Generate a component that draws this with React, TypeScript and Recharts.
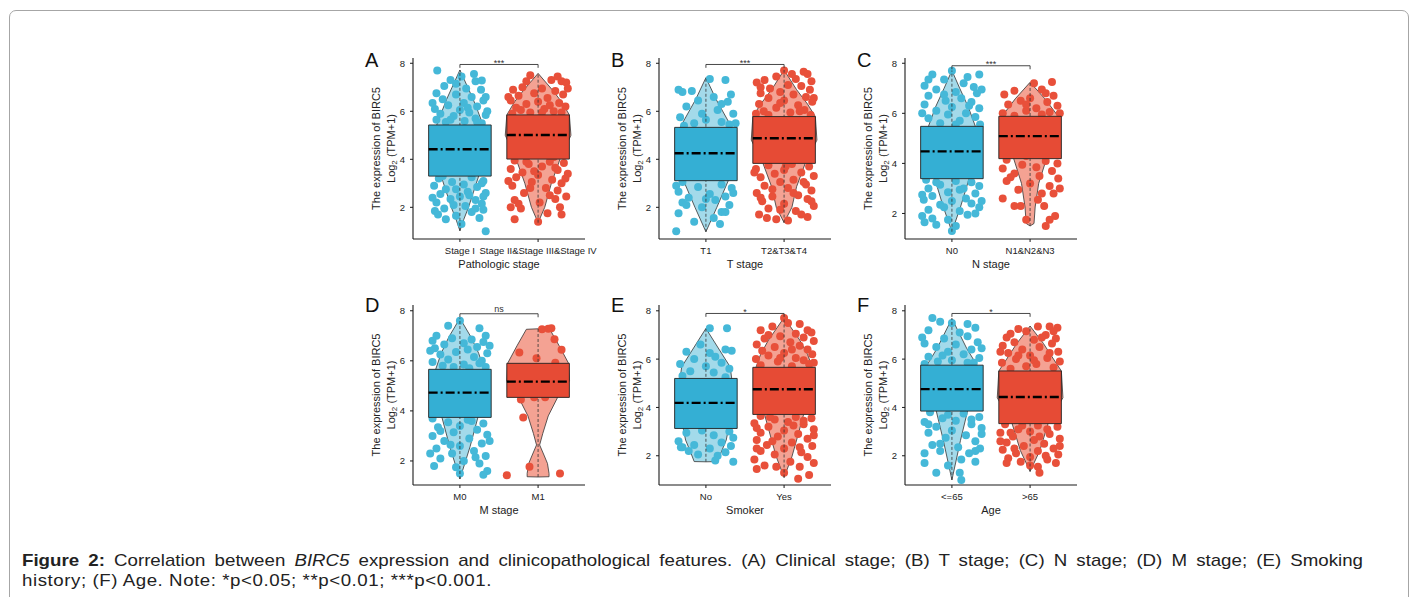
import React from "react";
import {
  ComposedChart,
  Area,
  Scatter,
  XAxis,
  YAxis,
  ReferenceArea,
  ReferenceLine,
  ReferenceDot,
} from "recharts";

// ---- categories / labels ----
const pathologicCats = ["Stage I", "Stage II&Stage III&Stage IV"];
const tCats = ["T1", "T2&T3&T4"];
const nCats = ["N0", "N1&N2&N3"];
const mCats = ["M0", "M1"];
const smokerCats = ["No", "Yes"];
const ageCats = ["<=65", ">65"];

const axisTitles = ["Pathologic stage", "T stage", "N stage", "M stage", "Smoker", "Age"];
const sigLabels = ["***", "***", "***", "ns", "*", "*"];
const bracketYs = [7.95, 7.95, 7.9, 7.88, 7.89, 7.89];
const yTicks = [2, 4, 6, 8];
const xTicks = [1, 2];

// ---- box stats: [q1, median, q3] ----
const stageIBox = [3.3, 4.42, 5.43];
const stageIIBox = [4.01, 5.01, 5.85];
const t1Box = [3.11, 4.25, 5.33];
const t234Box = [3.83, 4.88, 5.78];
const n0Box = [3.39, 4.48, 5.48];
const n123Box = [4.19, 5.09, 5.88];
const m0Box = [3.74, 4.73, 5.66];
const m1Box = [4.54, 5.17, 5.9];
const noBox = [3.13, 4.19, 5.2];
const yesBox = [3.71, 4.75, 5.66];
const youngBox = [3.85, 4.76, 5.75];
const oldBox = [3.33, 4.43, 5.51];

// ---- violin outlines: [y, half width] ----
const stageIViolin = [[7.72, 0], [7.0, 0.1], [6.5, 0.17], [6.0, 0.23], [5.4, 0.3], [4.4, 0.33], [3.3, 0.24], [2.6, 0.17], [2.0, 0.11], [1.5, 0.05], [1.02, 0]];
const stageIIViolin = [[7.58, 0], [6.9, 0.18], [6.4, 0.3], [5.85, 0.4], [5.0, 0.42], [4.0, 0.28], [3.0, 0.17], [2.0, 0.085], [1.36, 0]];
const t1Violin = [[7.4, 0], [6.5, 0.13], [5.33, 0.33], [4.2, 0.35], [3.14, 0.29], [2.0, 0.14], [0.98, 0]];
const t234Violin = [[7.72, 0], [6.9, 0.16], [6.3, 0.3], [5.78, 0.4], [4.8, 0.42], [3.83, 0.27], [2.86, 0.16], [2.0, 0.1], [1.36, 0]];
const n0Violin = [[7.71, 0], [7.0, 0.1], [6.25, 0.21], [5.48, 0.3], [4.4, 0.32], [3.39, 0.22], [2.26, 0.11], [1.27, 0]];
const n123Violin = [[7.24, 0], [6.58, 0.19], [5.88, 0.36], [5.0, 0.38], [4.19, 0.21], [3.2, 0.11], [2.26, 0.065], [1.6, 0.05], [1.5, 0]];
const m0Violin = [[7.7, 0], [6.96, 0.14], [6.3, 0.24], [5.66, 0.31], [4.7, 0.33], [3.74, 0.23], [2.57, 0.13], [1.28, 0]];
const m1Violin = [[7.28, 0], [7.26, 0.15], [6.6, 0.27], [5.9, 0.39], [5.2, 0.4], [4.54, 0.25], [3.8, 0.13], [3.1, 0.06], [2.64, 0.02], [2.2, 0.08], [1.9, 0.12], [1.5, 0.14], [1.37, 0.14], [1.36, 0]];
const noViolin = [[7.27, 0], [6.5, 0.15], [5.68, 0.31], [5.2, 0.33], [4.2, 0.34], [3.13, 0.29], [2.65, 0.26], [2.1, 0.19], [1.76, 0.15], [1.75, 0]];
const yesViolin = [[7.72, 0], [6.79, 0.2], [6.2, 0.3], [5.66, 0.36], [4.7, 0.38], [3.71, 0.25], [2.65, 0.16], [1.96, 0.1], [1.1, 0]];
const youngViolin = [[7.68, 0], [6.44, 0.19], [5.75, 0.32], [4.8, 0.33], [3.85, 0.2], [2.64, 0.11], [1.0, 0]];
const oldViolin = [[7.37, 0], [6.65, 0.17], [6.0, 0.3], [5.51, 0.4], [4.4, 0.42], [3.33, 0.23], [2.22, 0.125], [1.35, 0]];

// ---- jittered samples: [x offset from category, y] ----
const stageIPoints = [
  [-0.29, 7.7], [0.02, 7.45], [-0.12, 7.3], [0.2, 7.25], [0.28, 7.28], [-0.2, 7.05], [0.08, 6.95], [0.27, 6.9], [-0.3, 6.75],
  [-0.05, 6.7], [0.15, 6.6], [-0.22, 6.5], [0.3, 6.45], [0.05, 6.35], [-0.15, 6.25], [0.22, 6.2], [-0.32, 6.1], [0.0, 6.05],
  [0.12, 5.95], [-0.25, 5.9], [0.33, 5.85], [-0.08, 5.8], [0.2, 5.7], [-0.3, 5.65], [0.06, 5.6], [-0.18, 5.55], [0.28, 5.5],
  [0.18, 7.55], [-0.05, 7.15], [0.33, 6.6], [-0.35, 6.35], [0.1, 6.15], [-0.12, 5.65], [0.35, 6.0], [0.22, 5.55],
  [-0.2, 5.2], [0.1, 4.8], [-0.05, 4.4], [0.25, 4.0], [-0.3, 3.6],
  [0.15, 3.25], [-0.27, 3.2], [0.3, 3.1], [-0.1, 3.05], [0.05, 2.95], [-0.33, 2.9], [0.22, 2.85], [-0.18, 2.75], [0.1, 2.65],
  [0.33, 2.6], [-0.25, 2.55], [0.0, 2.45], [-0.12, 2.35], [0.2, 2.3], [-0.3, 2.2], [0.28, 2.15], [0.07, 2.05], [-0.2, 1.95],
  [-0.32, 1.85], [0.15, 1.8], [-0.05, 1.65], [0.25, 1.55], [-0.18, 1.5], [0.02, 1.3], [0.33, 1.0],
  [-0.22, 3.3], [0.28, 3.0], [-0.05, 2.75], [0.12, 2.5], [-0.35, 2.4], [0.3, 2.45], [-0.08, 2.1], [0.2, 1.95], [-0.28, 1.7], [0.3, 1.9],
];
const stageIIPoints = [
  [-0.1, 7.5], [0.17, 7.3], [0.3, 7.25], [0.36, 7.2], [-0.2, 7.0], [0.05, 6.95], [-0.32, 6.9], [0.22, 6.85], [-0.05, 6.75],
  [0.32, 6.7], [-0.25, 6.65], [0.12, 6.55], [-0.35, 6.45], [0.0, 6.4], [0.27, 6.35], [-0.15, 6.3], [0.35, 6.2], [-0.28, 6.15],
  [0.08, 6.1], [0.2, 6.0], [-0.1, 5.95], [-0.33, 5.9],
  [0.25, 7.45], [-0.15, 7.25], [0.38, 6.95], [-0.38, 6.6], [0.15, 6.25], [-0.22, 6.05], [0.3, 5.95], [0.05, 5.95],
  [0.1, 5.6], [-0.2, 5.2], [0.3, 4.8], [-0.05, 4.4], [0.2, 4.1],
  [-0.3, 3.95], [0.15, 3.9], [0.33, 3.85], [-0.12, 3.8], [0.05, 3.7], [-0.35, 3.6], [0.25, 3.55], [-0.2, 3.45], [0.38, 3.4],
  [0.0, 3.35], [-0.28, 3.25], [0.18, 3.15], [-0.08, 3.05], [0.3, 3.0], [-0.33, 2.9], [0.1, 2.8], [0.25, 2.7], [-0.18, 2.6],
  [0.36, 2.45], [-0.3, 2.3], [0.02, 2.2], [0.28, 2.0], [-0.22, 1.95], [0.12, 1.75], [-0.3, 1.5], [0.3, 1.7], [0.0, 1.4],
  [-0.15, 3.9], [0.22, 3.65], [-0.05, 3.5], [0.35, 3.2], [-0.38, 3.1], [-0.1, 2.8], [0.15, 2.5], [-0.25, 2.15], [0.22, 2.35], [-0.35, 2.0],
];
const t1Points = [
  [0.05, 7.35], [0.25, 7.3], [-0.18, 6.85], [-0.3, 6.8], [0.32, 6.7], [0.1, 6.6], [-0.1, 6.45], [0.28, 6.4], [-0.25, 6.2],
  [0.15, 6.05], [0.35, 5.9], [-0.33, 5.75], [0.0, 5.65], [0.2, 5.55], [-0.15, 5.5], [0.3, 5.45], [-0.28, 5.4],
  [-0.35, 6.9], [0.2, 6.3], [-0.05, 5.9], [0.38, 5.5],
  [0.1, 5.0], [-0.2, 4.5], [0.25, 4.0], [-0.05, 3.5],
  [-0.3, 3.05], [0.2, 2.95], [-0.1, 2.85], [0.33, 2.8], [-0.35, 2.65], [0.05, 2.55], [0.25, 2.45], [-0.22, 2.4], [0.12, 2.3],
  [-0.3, 2.2], [0.3, 2.1], [-0.05, 2.0], [0.2, 1.8], [-0.35, 1.75], [0.1, 1.55], [-0.15, 1.4], [0.18, 1.3], [-0.38, 1.0],
  [-0.38, 2.9], [0.35, 2.6], [0.0, 2.35], [-0.25, 2.1], [0.25, 1.8],
];
const t234Points = [
  [0.0, 7.7], [0.25, 7.65], [0.3, 7.55], [-0.1, 7.45], [0.15, 7.35], [-0.25, 7.3], [0.35, 7.25], [-0.35, 7.2], [0.05, 7.1],
  [0.22, 7.05], [-0.18, 6.95], [0.33, 6.9], [-0.05, 6.8], [-0.3, 6.75], [0.12, 6.7], [0.28, 6.6], [-0.2, 6.55], [0.0, 6.45],
  [0.36, 6.4], [-0.32, 6.3], [0.18, 6.25], [-0.1, 6.15], [0.26, 6.05], [-0.26, 6.0], [0.08, 5.95], [-0.36, 5.9], [0.34, 5.85],
  [0.1, 7.55], [-0.3, 7.0], [0.38, 6.55], [-0.05, 6.35], [0.2, 6.0], [-0.2, 5.85],
  [0.2, 5.5], [-0.15, 5.0], [0.3, 4.5], [-0.3, 4.1],
  [0.1, 3.8], [-0.2, 3.75], [0.32, 3.7], [-0.36, 3.6], [0.0, 3.55], [0.22, 3.45], [-0.12, 3.4], [0.38, 3.3], [-0.3, 3.25],
  [0.12, 3.15], [-0.05, 3.05], [0.28, 2.95], [-0.25, 2.9], [0.05, 2.8], [0.35, 2.7], [-0.35, 2.6], [0.18, 2.5], [-0.15, 2.45],
  [0.3, 2.35], [-0.28, 2.25], [0.0, 2.15], [0.38, 2.05], [-0.2, 1.95], [0.15, 1.85], [-0.32, 1.7], [0.3, 1.6], [0.05, 1.45], [-0.1, 1.5],
  [0.02, 3.7], [-0.38, 3.45], [0.25, 3.05], [-0.15, 2.75], [0.12, 2.6], [-0.3, 2.4], [0.35, 2.25], [-0.05, 1.9], [0.22, 1.7], [-0.22, 1.55],
];
const n0Points = [
  [0.0, 7.7], [-0.25, 7.55], [0.35, 7.55], [-0.1, 7.35], [0.15, 7.2], [-0.35, 7.1], [0.28, 7.05], [-0.2, 6.95], [0.05, 6.85],
  [0.32, 6.8], [-0.3, 6.7], [0.12, 6.6], [-0.08, 6.5], [0.25, 6.45], [-0.35, 6.35], [0.0, 6.25], [0.35, 6.2], [-0.2, 6.1],
  [0.18, 6.0], [-0.05, 5.95], [0.3, 5.85], [-0.3, 5.8], [0.1, 5.7], [-0.15, 5.6], [0.36, 5.55],
  [0.2, 7.45], [-0.3, 7.35], [0.38, 6.95], [-0.1, 6.75], [0.22, 6.3], [-0.38, 6.0], [0.05, 5.55],
  [-0.25, 5.2], [0.15, 4.8], [-0.1, 4.3], [0.3, 3.8],
  [-0.33, 3.35], [0.05, 3.3], [0.25, 3.25], [-0.15, 3.15], [0.35, 3.1], [-0.3, 3.0], [0.1, 2.95], [-0.05, 2.85], [0.3, 2.8],
  [-0.25, 2.7], [0.18, 2.6], [-0.36, 2.55], [0.0, 2.5], [0.25, 2.4], [-0.15, 2.35], [0.35, 2.25], [-0.3, 2.15], [0.1, 2.1],
  [-0.38, 1.9], [-0.25, 1.8], [0.2, 1.95], [-0.05, 1.75], [-0.35, 1.65], [0.05, 1.5], [0.0, 1.3],
  [-0.2, 3.25], [0.15, 3.0], [-0.38, 2.75], [0.38, 2.5], [-0.1, 2.25], [0.3, 2.0], [-0.2, 1.55],
];
const n123Points = [
  [0.28, 7.25], [0.05, 7.2], [-0.2, 6.9], [0.15, 6.95], [-0.33, 6.75], [0.3, 6.7], [0.0, 6.6], [-0.12, 6.5], [0.22, 6.45],
  [-0.28, 6.35], [0.35, 6.3], [0.08, 6.2], [-0.05, 6.1], [0.25, 6.05], [-0.35, 6.0], [0.15, 5.95], [-0.2, 5.9],
  [0.2, 6.8], [-0.05, 6.35], [0.38, 6.0],
  [0.1, 5.5], [-0.25, 5.0], [0.3, 4.6], [-0.05, 4.3],
  [-0.3, 4.15], [0.2, 4.1], [0.35, 4.0], [-0.1, 3.95], [0.08, 3.85], [-0.35, 3.8], [0.28, 3.7], [-0.2, 3.6], [0.12, 3.5],
  [0.36, 3.4], [-0.3, 3.3], [0.0, 3.2], [0.25, 3.1], [-0.15, 2.95], [0.3, 2.8], [-0.35, 2.6], [0.1, 2.55], [-0.12, 2.3],
  [-0.2, 2.3], [0.18, 2.3], [0.32, 1.9], [-0.05, 1.75], [0.25, 1.75], [0.2, 1.5],
  [-0.25, 3.45], [0.38, 3.0], [0.15, 2.8],
];
const m0Points = [
  [0.0, 7.6], [0.25, 7.3], [-0.3, 7.0], [0.33, 7.0], [-0.1, 6.9], [0.15, 6.85], [-0.35, 6.8], [0.3, 6.75], [0.05, 6.7],
  [-0.2, 6.65], [0.22, 6.55], [-0.32, 6.5], [0.1, 6.45], [-0.05, 6.35], [0.35, 6.3], [-0.25, 6.25], [0.18, 6.15], [-0.15, 6.05],
  [0.28, 6.0], [-0.35, 5.95], [0.05, 5.85], [-0.22, 5.8], [0.33, 5.75], [0.12, 5.7],
  [-0.15, 7.4], [0.38, 6.6], [-0.38, 6.4], [0.25, 5.9], [-0.08, 5.75],
  [-0.3, 5.3], [0.2, 4.9], [-0.1, 4.4], [0.3, 4.0],
  [-0.35, 3.7], [0.1, 3.65], [-0.15, 3.55], [0.3, 3.5], [0.0, 3.4], [-0.28, 3.35], [0.22, 3.25], [-0.08, 3.15], [0.35, 3.05],
  [-0.35, 3.0], [0.12, 2.9], [-0.2, 2.8], [0.28, 2.7], [0.0, 2.6], [-0.3, 2.5], [0.18, 2.4], [-0.1, 2.3], [0.33, 2.2],
  [-0.25, 2.1], [0.05, 2.0], [0.25, 1.9], [-0.33, 1.8], [-0.05, 1.75], [0.35, 1.6], [0.3, 1.45],
  [0.15, 3.6], [-0.25, 3.2], [0.38, 2.8], [-0.12, 2.65], [0.2, 2.15], [-0.38, 2.3], [0.0, 1.5],
];
const m1Points = [
  [0.05, 7.26], [0.13, 7.28], [0.17, 7.3], [0.21, 6.86], [0.3, 6.44], [-0.24, 6.33], [-0.02, 6.1], [0.22, 5.92], [-0.15, 5.7],
  [0.1, 5.4], [-0.3, 5.2], [0.25, 5.0], [0.0, 4.8], [-0.22, 4.46], [-0.05, 4.55], [0.09, 4.55], [-0.19, 3.74], [-0.11, 1.77],
  [-0.4, 1.43], [0.28, 1.5],
];
const noPoints = [
  [0.05, 7.28], [0.27, 7.28], [-0.07, 6.6], [0.25, 6.4], [0.33, 6.35], [-0.25, 6.3], [0.05, 6.25], [0.12, 6.1], [-0.15, 6.0],
  [0.2, 5.85], [-0.33, 5.8], [0.0, 5.7], [0.3, 5.6], [-0.2, 5.5], [0.1, 5.45], [-0.3, 5.3], [0.25, 5.25],
  [-0.1, 4.9], [0.2, 4.4], [-0.25, 3.9], [0.05, 3.4],
  [-0.05, 3.05], [0.3, 3.0], [-0.25, 2.95], [0.1, 2.85], [0.35, 2.75], [-0.35, 2.6], [0.2, 2.55], [-0.15, 2.45], [0.32, 2.4],
  [-0.3, 2.35], [0.05, 2.3], [-0.22, 2.2], [0.25, 2.15], [-0.1, 2.05], [0.15, 2.0], [-0.32, 2.35], [0.12, 1.8], [0.35, 1.75],
];
const yesPoints = [
  [0.0, 7.7], [0.05, 7.5], [-0.15, 7.35], [0.3, 7.2], [0.35, 7.1], [-0.3, 7.2], [0.15, 7.05], [-0.05, 6.95], [0.25, 6.9],
  [-0.25, 6.85], [0.38, 6.75], [0.08, 6.7], [-0.35, 6.6], [0.2, 6.55], [-0.12, 6.5], [0.3, 6.4], [-0.28, 6.35], [0.0, 6.25],
  [0.36, 6.2], [-0.2, 6.15], [0.15, 6.05], [-0.36, 6.0], [0.25, 5.95], [-0.08, 5.9], [0.32, 5.8], [-0.3, 5.75], [0.1, 5.7],
  [0.2, 7.45], [-0.2, 7.0], [0.1, 6.4], [-0.05, 6.05], [0.38, 5.85],
  [-0.2, 5.3], [0.25, 4.9], [-0.05, 4.4], [0.3, 4.0],
  [-0.3, 3.65], [0.15, 3.6], [0.35, 3.55], [-0.12, 3.5], [0.05, 3.4], [-0.38, 3.35], [0.25, 3.3], [-0.2, 3.2], [0.38, 3.1],
  [0.0, 3.05], [-0.3, 2.95], [0.18, 2.9], [-0.08, 2.8], [0.3, 2.7], [-0.35, 2.65], [0.1, 2.55], [-0.22, 2.45], [0.36, 2.4],
  [0.0, 2.3], [-0.3, 2.2], [0.22, 2.15], [-0.12, 2.05], [0.3, 1.95], [-0.38, 1.85], [0.08, 1.75], [-0.25, 1.6], [0.2, 1.55],
  [-0.35, 1.45], [0.0, 1.3], [0.32, 1.2], [0.18, 1.05],
  [-0.18, 3.6], [0.25, 3.45], [-0.35, 3.15], [0.12, 3.25], [0.38, 2.85], [-0.15, 2.6], [0.2, 2.35], [-0.35, 2.3], [0.38, 1.7], [-0.1, 1.55],
];
const youngPoints = [
  [-0.25, 7.7], [-0.15, 7.55], [0.0, 7.5], [0.3, 7.3], [-0.3, 7.2], [0.1, 7.1], [0.2, 6.95], [-0.1, 6.85], [0.33, 6.7],
  [-0.35, 6.65], [0.05, 6.6], [-0.2, 6.5], [0.25, 6.4], [-0.05, 6.3], [0.15, 6.2], [-0.3, 6.1], [0.35, 6.05], [0.0, 5.95],
  [-0.18, 5.9], [0.28, 5.85], [-0.35, 5.8],
  [0.2, 7.45], [-0.38, 6.9], [0.38, 6.45], [-0.12, 6.15], [0.2, 5.85],
  [0.1, 5.4], [-0.2, 5.0], [0.3, 4.5], [-0.05, 4.0],
  [-0.28, 3.8], [0.15, 3.75], [0.35, 3.6], [-0.12, 3.55], [0.05, 3.45], [-0.35, 3.4], [0.25, 3.3], [-0.2, 3.2], [0.38, 3.15],
  [0.0, 3.05], [-0.3, 2.95], [0.18, 2.85], [-0.08, 2.75], [0.3, 2.6], [-0.25, 2.45], [0.08, 2.35], [0.36, 2.3], [-0.15, 2.2],
  [0.22, 2.1], [-0.35, 1.7], [0.12, 1.85], [0.3, 1.75], [-0.05, 1.6], [-0.2, 1.3], [0.1, 1.3], [0.12, 1.0],
  [-0.05, 3.7], [0.25, 3.5], [-0.3, 3.3], [0.38, 2.9], [-0.15, 2.5], [0.3, 2.2], [-0.35, 2.1],
];
const oldPoints = [
  [0.1, 7.35], [0.25, 7.35], [0.35, 7.3], [-0.15, 7.25], [-0.05, 7.15], [0.2, 7.0], [-0.3, 6.9], [0.33, 6.85], [0.05, 6.8],
  [-0.2, 6.7], [0.28, 6.65], [-0.35, 6.55], [0.12, 6.5], [-0.1, 6.4], [0.36, 6.3], [-0.28, 6.25], [0.0, 6.15], [0.22, 6.05],
  [-0.18, 6.0], [0.38, 5.9], [-0.36, 5.85], [0.08, 5.8], [-0.05, 5.7], [0.3, 5.65], [-0.25, 5.6],
  [0.3, 7.15], [-0.25, 7.05], [0.15, 6.9], [-0.38, 6.3], [0.25, 6.25], [-0.15, 6.15], [0.05, 5.95],
  [0.15, 5.2], [-0.2, 4.8], [0.3, 4.2], [-0.05, 3.7],
  [-0.32, 3.3], [0.1, 3.25], [0.35, 3.2], [-0.15, 3.1], [0.0, 3.0], [-0.38, 2.95], [0.25, 2.9], [-0.22, 2.8], [0.38, 2.7],
  [0.05, 2.65], [-0.3, 2.55], [0.18, 2.5], [-0.08, 2.4], [0.3, 2.3], [-0.35, 2.25], [0.1, 2.2], [-0.18, 2.1], [0.36, 2.05],
  [0.0, 1.95], [-0.28, 1.9], [0.22, 1.85], [-0.12, 1.75], [0.33, 1.7], [0.1, 1.55], [0.12, 1.3],
  [-0.1, 3.25], [0.22, 3.1], [-0.25, 2.95], [0.12, 2.8], [-0.38, 2.6], [0.38, 2.4], [-0.2, 2.3], [0.2, 2.0], [-0.3, 1.7], [0.0, 1.6],
];

// ---- styling ----
const INK = "#1a1a1a";
const FONT = '"Liberation Sans", Arial, Helvetica, sans-serif';
const PALETTE = [
  { point: "#45B8D8", box: "#34AFD4", violin: "#A3DAEA" },
  { point: "#E8503A", box: "#E64B35", violin: "#F4A293" },
];
const Y_W = 52;
const TOP_M = 18;
const RIGHT_M = 12;
const X_H = 40;
const PLOT_W = 172;

type Group = { violin: number[][]; box: number[]; points: number[][] };
type PanelCfg = {
  letter: string;
  cats: string[];
  domain: [number, number];
  groups: Group[];
  left: number;
  top: number;
  height: number;
  idx: number;
};

const panels: PanelCfg[] = [
  { letter: "A", cats: pathologicCats, domain: [0.68, 8.22], idx: 0, left: 413, top: 58, height: 181,
    groups: [{ violin: stageIViolin, box: stageIBox, points: stageIPoints }, { violin: stageIIViolin, box: stageIIBox, points: stageIIPoints }] },
  { letter: "B", cats: tCats, domain: [0.68, 8.22], idx: 1, left: 659, top: 58, height: 181,
    groups: [{ violin: t1Violin, box: t1Box, points: t1Points }, { violin: t234Violin, box: t234Box, points: t234Points }] },
  { letter: "C", cats: nCats, domain: [0.98, 8.21], idx: 2, left: 905, top: 58, height: 181,
    groups: [{ violin: n0Violin, box: n0Box, points: n0Points }, { violin: n123Violin, box: n123Box, points: n123Points }] },
  { letter: "D", cats: mCats, domain: [1.04, 8.23], idx: 3, left: 413, top: 305, height: 180,
    groups: [{ violin: m0Violin, box: m0Box, points: m0Points }, { violin: m1Violin, box: m1Box, points: m1Points }] },
  { letter: "E", cats: smokerCats, domain: [0.79, 8.24], idx: 4, left: 659, top: 305, height: 180,
    groups: [{ violin: noViolin, box: noBox, points: noPoints }, { violin: yesViolin, box: yesBox, points: yesPoints }] },
  { letter: "F", cats: ageCats, domain: [0.79, 8.24], idx: 5, left: 905, top: 305, height: 180,
    groups: [{ violin: youngViolin, box: youngBox, points: youngPoints }, { violin: oldViolin, box: oldBox, points: oldPoints }] },
];

const YTitle = (props: any) => {
  const vb = props.viewBox || { x: 0, y: TOP_M, width: Y_W, height: 180 };
  const cy = vb.y + vb.height / 2;
  const x1 = vb.x + 15;
  const x2 = vb.x + 30;
  return (
    <g fontFamily={FONT} fontSize={11} fill="#222">
      <text x={x1} y={cy} transform={`rotate(-90 ${x1} ${cy})`} textAnchor="middle" dominantBaseline="central">
        The expression of BIRC5
      </text>
      <text x={x2} y={cy} transform={`rotate(-90 ${x2} ${cy})`} textAnchor="middle" dominantBaseline="central">
        <tspan>Log</tspan>
        <tspan fontSize={8} dy={3}>2</tspan>
        <tspan dy={-3}> (TPM+1)</tspan>
      </text>
    </g>
  );
};

function Panel({ p }: { p: PanelCfg }) {
  const W = Y_W + PLOT_W + RIGHT_M;
  const H = TOP_M + p.height + X_H;
  const sig = sigLabels[p.idx];
  const by = bracketYs[p.idx];
  const isAsterisk = sig !== "ns";
  return (
    <div style={{ position: "absolute", left: p.left - Y_W, top: p.top - TOP_M }}>
      <ComposedChart
        layout="vertical"
        width={W}
        height={H}
        margin={{ top: TOP_M, right: RIGHT_M, bottom: 0, left: 0 }}
      >
        <XAxis
          type="number"
          dataKey="x"
          domain={[0.4, 2.6]}
          ticks={xTicks}
          interval={0}
          allowDataOverflow
          height={X_H}
          tickSize={3}
          tickMargin={4}
          axisLine={{ stroke: INK, strokeWidth: 1.1 }}
          tickLine={{ stroke: INK, strokeWidth: 1 }}
          tick={(tp: any) => (
            <text x={tp.x} y={tp.y} dy={8} textAnchor="middle" fontSize={9.5} fontFamily={FONT} fill="#222">
              {p.cats[tp.payload.value - 1]}
            </text>
          )}
          label={(lp: any) => {
            const vb = lp.viewBox;
            return (
              <text x={vb.x + vb.width / 2} y={vb.y + 29} textAnchor="middle" fontSize={11} fontFamily={FONT} fill="#222">
                {axisTitles[p.idx]}
              </text>
            );
          }}
        />
        <YAxis
          type="number"
          dataKey="y"
          domain={p.domain}
          reversed
          ticks={yTicks}
          interval={0}
          allowDataOverflow
          width={Y_W}
          tickSize={3}
          tickMargin={5}
          axisLine={{ stroke: INK, strokeWidth: 1.1 }}
          tickLine={{ stroke: INK, strokeWidth: 1 }}
          tick={(tp: any) => (
            <text x={tp.x} y={tp.y} dy={3.4} textAnchor="end" fontSize={9.5} fontFamily={FONT} fill="#222">
              {tp.payload.value}
            </text>
          )}
          label={(lp: any) => <YTitle viewBox={lp.viewBox} />}
        />

        {p.groups.map((g, i) => (
          <Area
            key={`v${i}`}
            data={g.violin.map(([y, w]) => ({ y, range: [i + 1 - w, i + 1 + w] }))}
            dataKey="range"
            type="linear"
            stroke="#333"
            strokeWidth={0.8}
            fill={PALETTE[i].violin}
            fillOpacity={1}
            dot={false}
            activeDot={false}
            isAnimationActive={false}
          />
        ))}

        {p.groups.map((g, i) => (
          <Scatter
            key={`s${i}`}
            data={g.points.map(([dx, y]) => ({ x: i + 1 + dx, y }))}
            isAnimationActive={false}
            shape={(sp: any) => <circle cx={sp.cx} cy={sp.cy} r={4} fill={PALETTE[i].point} />}
          />
        ))}

        {p.groups.map((g, i) => (
          <ReferenceLine
            key={`c${i}`}
            segment={[
              { x: i + 1, y: g.violin[g.violin.length - 1][0] },
              { x: i + 1, y: g.violin[0][0] },
            ]}
            stroke="#333"
            strokeWidth={0.8}
            strokeDasharray="3 2"
            zIndex={610}
          />
        ))}

        {p.groups.map((g, i) => (
          <ReferenceArea
            key={`b${i}`}
            x1={i + 1 - 0.4}
            x2={i + 1 + 0.4}
            y1={g.box[0]}
            y2={g.box[2]}
            fill={PALETTE[i].box}
            fillOpacity={1}
            stroke="#222"
            strokeWidth={0.9}
            ifOverflow="visible"
            zIndex={620}
          />
        ))}

        {p.groups.map((g, i) => (
          <ReferenceLine
            key={`m${i}`}
            segment={[
              { x: i + 1 - 0.4, y: g.box[1] },
              { x: i + 1 + 0.4, y: g.box[1] },
            ]}
            stroke="#000"
            strokeWidth={2.4}
            strokeDasharray="9 3 2 3"
            zIndex={630}
          />
        ))}

        <ReferenceLine segment={[{ x: 1, y: by }, { x: 2, y: by }]} stroke="#333" strokeWidth={0.9} zIndex={640} />
        <ReferenceLine segment={[{ x: 1, y: by }, { x: 1, y: by - 0.14 }]} stroke="#333" strokeWidth={0.9} zIndex={640} />
        <ReferenceLine segment={[{ x: 2, y: by }, { x: 2, y: by - 0.14 }]} stroke="#333" strokeWidth={0.9} zIndex={640} />
        <ReferenceDot
          x={1.5}
          y={by}
          r={0}
          fill="none"
          stroke="none"
          ifOverflow="visible"
          zIndex={650}
          label={(lp: any) => {
            const vb = lp.viewBox;
            const cx = vb.x + (vb.width || 0) / 2;
            const cy = vb.y + (vb.height || 0) / 2;
            return (
              <text x={cx} y={cy + (isAsterisk ? 1.5 : -2)} textAnchor="middle" fontSize={isAsterisk ? 9 : 9} fontFamily={FONT} fill="#333">
                {sig}
              </text>
            );
          }}
        />
      </ComposedChart>
      <div
        style={{
          position: "absolute",
          left: Y_W - 48,
          top: p.idx < 3 ? TOP_M - 8 : TOP_M - 10,
          fontFamily: FONT,
          fontSize: 20,
          lineHeight: "20px",
          color: "#111",
        }}
      >
        {p.letter}
      </div>
    </div>
  );
}

export default function App() {
  const capScale = 1.1;
  return (
    <div
      style={{
        position: "absolute",
        left: 0,
        top: 0,
        width: 1416,
        height: 597,
        background: "#fff",
        overflow: "hidden",
        fontFamily: FONT,
      }}
    >
      <div
        style={{
          position: "absolute",
          left: 9,
          top: 10,
          width: 1398,
          height: 640,
          border: "1px solid #a6a6a6",
          borderRadius: 7,
        }}
      />
      {panels.map((p) => (
        <Panel key={p.letter} p={p} />
      ))}
      <div
        style={{
          position: "absolute",
          left: 22,
          top: 551,
          width: 1341 / capScale,
          fontSize: 17,
          lineHeight: "20px",
          color: "#222",
          transform: `scaleX(${capScale})`,
          transformOrigin: "0 0",
        }}
      >
        <div style={{ textAlign: "justify", textAlignLast: "justify", whiteSpace: "nowrap" }}>
          <b>Figure 2:</b> Correlation between <i>BIRC5</i> expression and clinicopathological features. (A) Clinical
          stage; (B) T stage; (C) N stage; (D) M stage; (E) Smoking
        </div>
        <div style={{ letterSpacing: 0.5 }}>history; (F) Age. Note: *p&lt;0.05; **p&lt;0.01; ***p&lt;0.001.</div>
      </div>
    </div>
  );
}
